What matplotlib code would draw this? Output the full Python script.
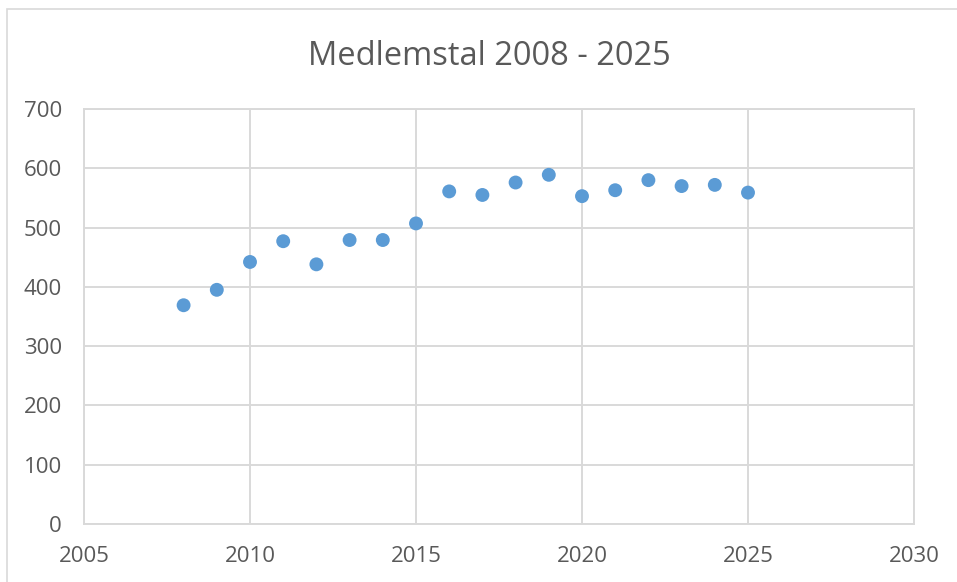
import matplotlib
matplotlib.use("Agg")
import matplotlib.pyplot as plt
from matplotlib.patches import Rectangle

years = [2008, 2009, 2010, 2011, 2012, 2013, 2014, 2015, 2016,
         2017, 2018, 2019, 2020, 2021, 2022, 2023, 2024, 2025]
members = [369, 395, 442, 477, 438, 479, 479, 507, 561,
           555, 576, 589, 553, 563, 580, 570, 572, 559]
x_ticks = [2005, 2010, 2015, 2020, 2025, 2030]
y_ticks = [0, 100, 200, 300, 400, 500, 600, 700]
title = "Medlemstal 2008 - 2025"

plt.rcParams['font.family'] = ['Open Sans', 'DejaVu Sans']
W, H = 957, 582
fig = plt.figure(figsize=(W / 100, H / 100), dpi=100)
fig.patch.set_facecolor('white')

# outer chart border
fig.patches.append(Rectangle((7 / W, -0.1), 1.2, 1 - 9 / H + 0.1, transform=fig.transFigure,
                             fill=False, edgecolor='#d9d9d9', linewidth=1.2))

ax = fig.add_axes([84 / W, 1 - 524 / H, (914 - 84) / W, (524 - 109) / H])
grid_c = '#d9d9d9'
ax.scatter(years, members, s=100, color='#5B9BD5', edgecolors='none', zorder=3)
ax.set_xlim(2005, 2030)
ax.set_ylim(0, 700)
ax.set_xticks(x_ticks)
ax.set_yticks(y_ticks)
ax.grid(True, color=grid_c, linewidth=1.4)
ax.set_axisbelow(True)
for s in ax.spines.values():
    s.set_color(grid_c)
    s.set_linewidth(1.4)
ax.tick_params(length=0, colors='#595959', labelsize=16)
ax.tick_params(axis='y', pad=16)
ax.tick_params(axis='x', pad=16)

fig.text(489 / W, 1 - 65 / H, title, ha='center', va='baseline', fontsize=23.5, color='#595959')

fig.savefig("out.png", dpi=100)
